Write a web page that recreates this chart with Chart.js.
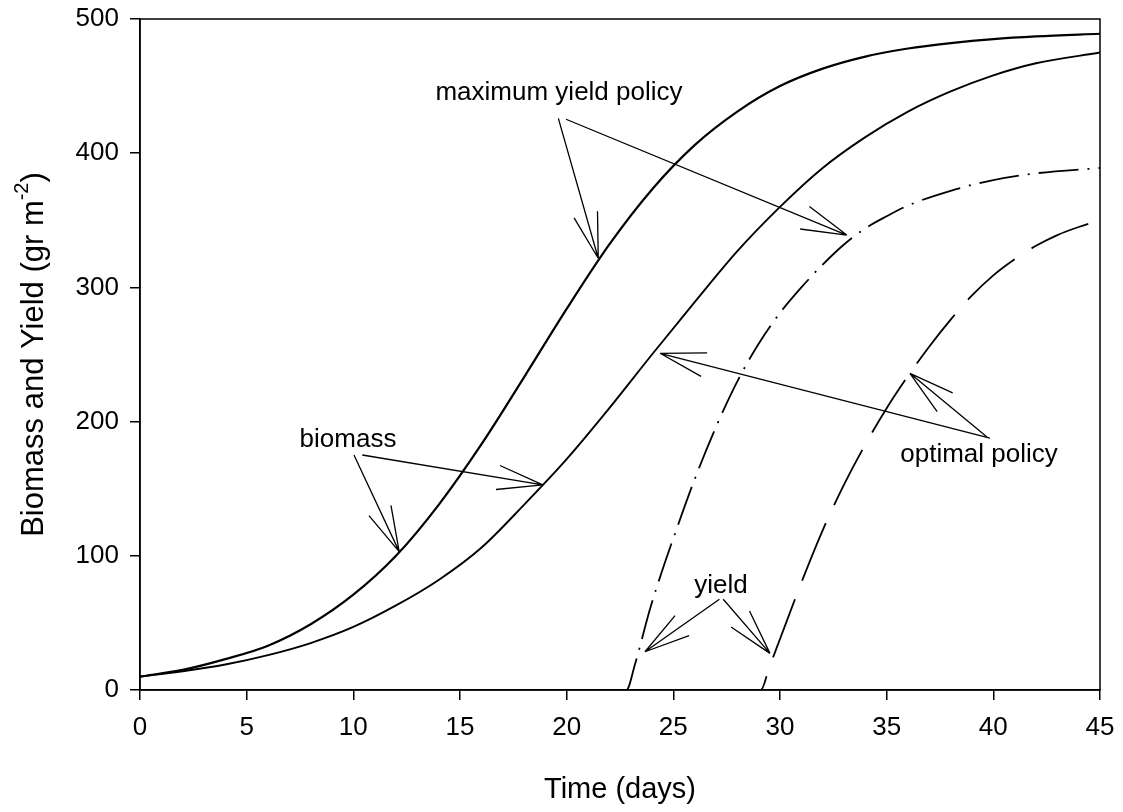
<!DOCTYPE html>
<html>
<head>
<title>Biomass and Yield</title>
<script src="https://cdn.jsdelivr.net/npm/chart.js"></script>
<style>
  html, body { margin: 0; padding: 0; background: #fff; }
  #wrap { width: 1123px; height: 812px; }
</style>
</head>
<body>
<div id="wrap"><canvas id="chart"></canvas></div>
<script>
// biomass curves
const bioDays = [0, 2, 4, 6, 8, 10, 12, 14, 16, 18, 20, 22, 24, 26, 28, 30, 32, 34, 36, 38, 40, 42, 45];
const biomassMaxYield = [10, 15, 23, 33, 49, 71, 100, 138, 183, 233, 284, 332, 373, 406, 431, 450, 463, 472, 478, 482, 485, 487, 489];
const biomassOptimal = [10, 14, 19, 26, 35, 47, 63, 82, 106, 138, 172, 210, 250, 289, 327, 360, 389, 412, 431, 446, 458, 467, 475];

// yield curves (zero until harvest starts)
const yieldMaxDays = [0, 22.8, 23.2, 23.9, 24.5, 25, 26, 27, 28, 29, 30, 31, 32, 33, 34, 35, 36, 38, 40, 42, 45];
const yieldMaxYield = [0, 0, 19, 60, 90, 113, 157, 196, 230, 258, 281, 300, 317, 332, 344, 353, 361, 372, 380, 385, 389];
const yieldOptDays = [0, 29.1, 29.5, 30, 31, 32, 33, 34, 35, 36, 37, 38, 39, 40, 41, 42, 43, 44, 45];
const yieldOptimal = [0, 0, 17, 38, 80, 119, 153, 183, 210, 234, 256, 276, 294, 309, 321, 331, 339, 345, 350];

const xTicks = [0, 5, 10, 15, 20, 25, 30, 35, 40, 45];
const yTicks = [0, 100, 200, 300, 400, 500];

// text labels and arrows, in data units
const labels = [
  { text: 'maximum yield policy', x: 19.64, y: 439.6 },
  { text: 'biomass', x: 9.75, y: 181.3 },
  { text: 'optimal policy', x: 39.33, y: 169.9 },
  { text: 'yield', x: 27.23, y: 72.1 }
];
const arrows = [
  [19.61, 426.0, 21.48, 321.7],
  [19.97, 425.3, 33.13, 339.0],
  [10.03, 175.1, 12.15, 103.1],
  [10.42, 175.1, 18.88, 152.8],
  [39.84, 187.6, 24.38, 250.9],
  [39.69, 188.7, 36.09, 236.0],
  [27.16, 67.6, 23.67, 28.5],
  [27.34, 67.6, 29.53, 27.3]
];

const FONT = '"Liberation Sans", Arial, sans-serif';

function pts(xs, ys) { return xs.map((x, i) => ({ x: x, y: ys[i] })); }

const extras = {
  id: 'extras',
  afterDatasetsDraw(chart) {
    const ctx = chart.ctx, xs = chart.scales.x, ys = chart.scales.y, a = chart.chartArea;
    ctx.save();
    ctx.strokeStyle = '#000';
    ctx.lineWidth = 1.5;
    ctx.strokeRect(a.left, a.top, a.right - a.left, a.bottom - a.top);

    // arrows with open heads
    ctx.lineWidth = 1.3;
    arrows.forEach(ar => {
      const x1 = xs.getPixelForValue(ar[0]), y1 = ys.getPixelForValue(ar[1]);
      const x2 = xs.getPixelForValue(ar[2]), y2 = ys.getPixelForValue(ar[3]);
      const ang = Math.atan2(y2 - y1, x2 - x1);
      ctx.beginPath();
      ctx.moveTo(x1, y1); ctx.lineTo(x2, y2);
      [-1, 1].forEach(s => {
        const b = ang + Math.PI + s * 15 * Math.PI / 180;
        ctx.moveTo(x2, y2);
        ctx.lineTo(x2 + 47 * Math.cos(b), y2 + 47 * Math.sin(b));
      });
      ctx.stroke();
    });

    ctx.fillStyle = '#000';
    ctx.font = '26px ' + FONT;
    ctx.textAlign = 'center';
    ctx.textBaseline = 'alphabetic';
    labels.forEach(l => ctx.fillText(l.text, xs.getPixelForValue(l.x), ys.getPixelForValue(l.y)));

    // tick labels
    ctx.textBaseline = 'middle';
    xTicks.forEach(v => ctx.fillText(String(v), xs.getPixelForValue(v), a.bottom + 38));
    ctx.textAlign = 'right';
    yTicks.forEach(v => ctx.fillText(String(v), a.left - 21, ys.getPixelForValue(v)));

    // axis titles
    ctx.textAlign = 'center';
    ctx.font = '29px ' + FONT;
    ctx.fillText('Time (days)', (a.left + a.right) / 2, 790);

    ctx.translate(34, (a.top + a.bottom) / 2);
    ctx.rotate(-Math.PI / 2);
    const main = 'Biomass and Yield (gr m', sup = '-2', close = ')';
    ctx.font = '31px ' + FONT;
    const w1 = ctx.measureText(main).width, w3 = ctx.measureText(close).width;
    ctx.font = '20px ' + FONT;
    const w2 = ctx.measureText(sup).width;
    const x = -(w1 + w2 + w3) / 2;
    ctx.textAlign = 'left';
    ctx.font = '31px ' + FONT;
    ctx.fillText(main, x, 0);
    ctx.font = '20px ' + FONT;
    ctx.fillText(sup, x + w1, -12);
    ctx.font = '31px ' + FONT;
    ctx.fillText(close, x + w1 + w2, 0);
    ctx.restore();
  }
};

new Chart(document.getElementById('chart'), {
  type: 'line',
  data: {
    datasets: [
      { data: pts(bioDays, biomassMaxYield), borderColor: '#000', borderWidth: 2.2 },
      { data: pts(bioDays, biomassOptimal), borderColor: '#000', borderWidth: 1.9 },
      { data: pts(yieldMaxDays, yieldMaxYield), borderColor: '#000', borderWidth: 1.8, borderDash: [40, 9, 2, 9] },
      { data: pts(yieldOptDays, yieldOptimal), borderColor: '#000', borderWidth: 1.8, borderDash: [62, 20] }
    ]
  },
  options: {
    responsive: true,
    maintainAspectRatio: false,
    animation: false,
    devicePixelRatio: 1,
    layout: { padding: { top: 19, right: 23, left: 0, bottom: 0 } },
    elements: {
      point: { radius: 0 },
      line: { cubicInterpolationMode: 'monotone', fill: false }
    },
    plugins: { legend: { display: false }, tooltip: { enabled: false } },
    scales: {
      x: {
        type: 'linear', min: 0, max: 45,
        afterBuildTicks: s => { s.ticks = xTicks.map(v => ({ value: v })); },
        afterFit: s => { s.height = 122; },
        grid: { drawOnChartArea: false, drawTicks: true, tickLength: 10, color: '#000', lineWidth: 1.5 },
        border: { display: true, color: '#000', width: 1.5 },
        ticks: { display: false }
      },
      y: {
        min: 0, max: 500,
        afterBuildTicks: s => { s.ticks = yTicks.map(v => ({ value: v })); },
        afterFit: s => { s.width = 140; },
        grid: { drawOnChartArea: false, drawTicks: true, tickLength: 10, color: '#000', lineWidth: 1.5 },
        border: { display: true, color: '#000', width: 1.5 },
        ticks: { display: false }
      }
    }
  },
  plugins: [extras]
});
</script>
</body>
</html>
